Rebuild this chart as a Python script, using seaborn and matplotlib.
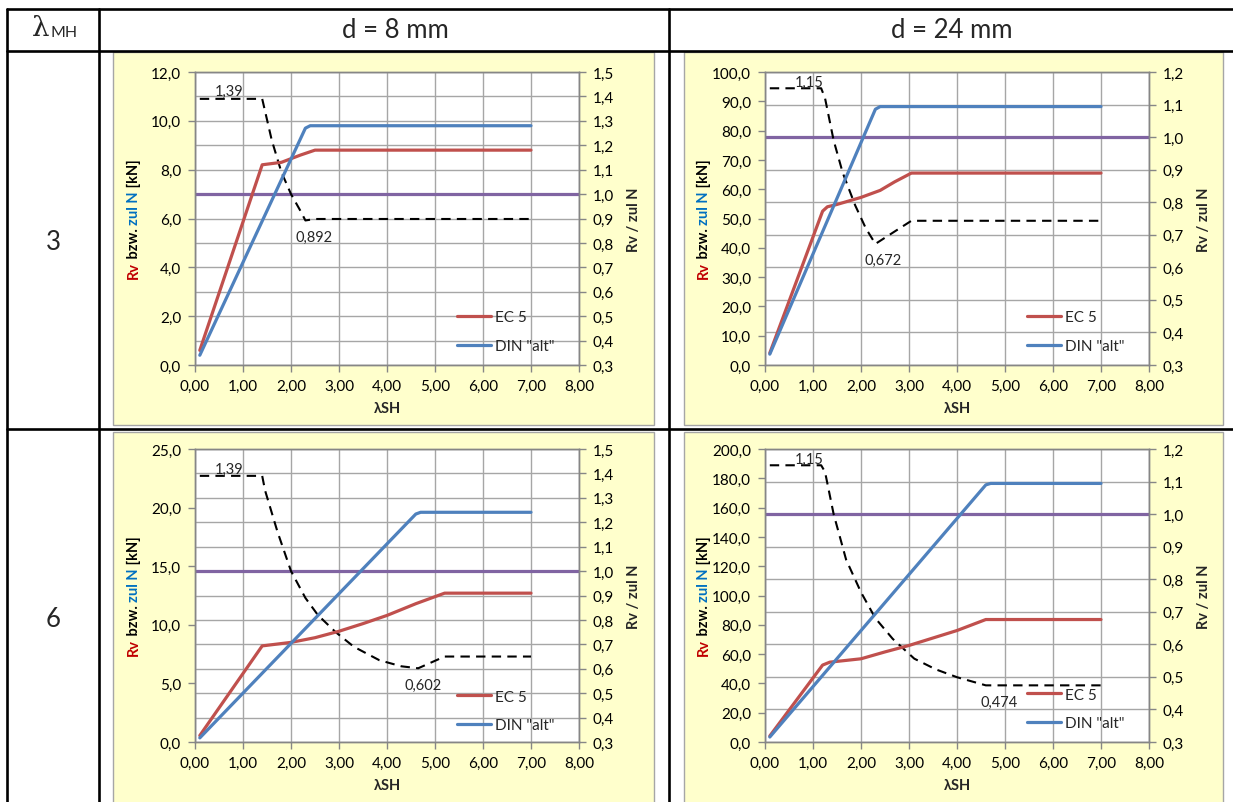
import matplotlib
matplotlib.use("Agg")
import matplotlib.pyplot as plt
from matplotlib.lines import Line2D
from matplotlib.patches import Rectangle
from matplotlib.text import Annotation
from matplotlib.ticker import FuncFormatter, MultipleLocator
import seaborn as sns

# values, x = lambda_SH
# d = 8 mm, lambda_MH = 3
a_ec5_x = [0.1, 1.4, 1.8, 2.0, 2.2, 2.5, 7.0]
a_ec5_y = [0.6, 8.2, 8.3, 8.45, 8.6, 8.8, 8.8]
a_din_x = [0.1, 2.3, 2.4, 7.0]
a_din_y = [0.4, 9.7, 9.8, 9.8]
a_rat_x = [0.1, 1.4, 1.6, 1.8, 2.0, 2.2, 2.3, 2.4, 2.5, 7.0]
a_rat_y = [1.39, 1.39, 1.22, 1.09, 1.0, 0.93, 0.892, 0.895, 0.898, 0.898]

# d = 24 mm, lambda_MH = 3
b_ec5_x = [0.1, 1.2, 1.3, 1.5, 2.0, 2.4, 2.7, 3.05, 7.0]
b_ec5_y = [4.1, 52.5, 54.0, 54.8, 57.2, 59.6, 62.5, 65.5, 65.5]
b_din_x = [0.1, 2.3, 2.4, 7.0]
b_din_y = [3.7, 87.3, 88.2, 88.2]
b_rat_x = [0.1, 1.17, 1.25, 1.43, 1.62, 1.88, 2.1, 2.3, 2.7, 3.05, 7.0]
b_rat_y = [1.15, 1.15, 1.12, 0.99, 0.89, 0.79, 0.72, 0.672, 0.71, 0.743, 0.743]

# d = 8 mm, lambda_MH = 6
c_ec5_x = [0.1, 1.4, 2.0, 2.5, 3.0, 3.5, 4.0, 4.6, 5.2, 7.0]
c_ec5_y = [0.55, 8.2, 8.5, 8.9, 9.45, 10.1, 10.8, 11.8, 12.7, 12.7]
c_din_x = [0.1, 4.6, 4.7, 7.0]
c_din_y = [0.35, 19.45, 19.6, 19.6]
c_rat_x = [0.1, 1.4, 1.46, 1.72, 2.0, 2.3, 2.56, 2.93, 3.31, 3.84, 4.3, 4.65, 5.2, 7.0]
c_rat_y = [1.39, 1.39, 1.33, 1.16, 1.0, 0.89, 0.82, 0.75, 0.69, 0.635, 0.61, 0.602, 0.65, 0.65]

# d = 24 mm, lambda_MH = 6
d_ec5_x = [0.1, 1.2, 1.35, 2.0, 2.5, 3.0, 3.5, 4.0, 4.6, 7.0]
d_ec5_y = [4.1, 52.5, 54.5, 56.8, 61.5, 65.9, 71.0, 76.1, 83.6, 83.6]
d_din_x = [0.1, 4.6, 4.7, 7.0]
d_din_y = [3.4, 175.5, 176.5, 176.5]
d_rat_x = [0.1, 1.17, 1.25, 1.43, 1.69, 2.0, 2.3, 2.66, 3.11, 3.56, 4.0, 4.6, 7.0]
d_rat_y = [1.15, 1.15, 1.13, 1.0, 0.86, 0.76, 0.68, 0.617, 0.556, 0.523, 0.499, 0.474, 0.474]

limit_ratio = 1.0
col_titles = ["d = 8 mm", "d = 24 mm"]
row_titles = ["3", "6"]
series_names = ["EC 5", 'DIN "alt"']

W, H = 1233, 803
RED = "#C0504D"
BLUE = "#4F81BD"
PURPLE = "#8064A2"
GRID = "#A6A6A6"
SPINE = "#868686"
PANEL = "#FFFFCC"

sns.set_theme(style="white")
plt.rcParams["font.family"] = ["Lato", "DejaVu Sans"]

fig = plt.figure(figsize=(W / 100, H / 100), dpi=100)
fig.patch.set_facecolor("white")


def fx(x):
    return x / W


def fy(y):
    return 1 - y / H


def comma(fmt):
    return FuncFormatter(lambda v, p: fmt.format(v).replace(".", ","))


def stacked_ylabel(xc, yc, parts, size=10.5):
    # multi coloured rotated label, pieces stacked bottom to top
    first = fig.text(fx(xc), fy(yc), parts[0][0], rotation=90, color=parts[0][1],
                     ha="center", va="bottom", fontsize=size, weight="bold")
    prev = first
    items = [first]
    for s, c in parts[1:]:
        t = Annotation(s, xy=(0.5, 1.0), xycoords=prev, rotation=90, color=c,
                       ha="center", va="bottom", fontsize=size, weight="bold")
        fig.add_artist(t)
        items.append(t)
        prev = t
    r = fig.canvas.get_renderer()
    total = sum(t.get_window_extent(r).height for t in items)
    first.set_position((fx(xc), fy(yc + total / 2)))


def draw_chart(box, ec5_x, ec5_y, din_x, din_y, rat_x, rat_y,
               ymax, ystep, rmax, hi_lab, lo_lab, leg_y):
    x0, y0, x1, y1 = box
    ax_r = fig.add_axes([fx(x0), fy(y1), fx(x1 - x0), (y1 - y0) / H])
    ax_l = ax_r.twinx()
    ax_r.set_facecolor("white")

    ax_r.axhline(limit_ratio, color=PURPLE, lw=2.3, zorder=2)
    sns.lineplot(x=rat_x, y=rat_y, ax=ax_r, color="black", lw=1.5,
                 linestyle=(0, (4.5, 3)), zorder=3)
    ax_r.text(hi_lab[0], hi_lab[1], hi_lab[2], ha="center", va="center", fontsize=10.5, zorder=4)
    ax_r.text(lo_lab[0], lo_lab[1], lo_lab[2], ha="center", va="center", fontsize=10.5, zorder=4)

    sns.lineplot(x=ec5_x, y=ec5_y, ax=ax_l, color=RED, lw=2.3)
    sns.lineplot(x=din_x, y=din_y, ax=ax_l, color=BLUE, lw=2.3)

    ax_r.set_xlim(0, 8)
    ax_r.set_ylim(0.3, rmax)
    ax_l.set_ylim(0, ymax)
    ax_r.xaxis.set_major_locator(MultipleLocator(1))
    ax_r.yaxis.set_major_locator(MultipleLocator(0.1))
    ax_l.yaxis.set_major_locator(MultipleLocator(ystep))
    ax_r.xaxis.set_major_formatter(comma("{:.2f}"))
    ax_r.yaxis.set_major_formatter(comma("{:.1f}"))
    ax_l.yaxis.set_major_formatter(comma("{:.1f}"))
    ax_r.yaxis.tick_right()
    ax_l.yaxis.tick_left()
    ax_r.grid(True, color=GRID, lw=1.0)
    ax_r.set_axisbelow(True)
    ax_l.grid(False)
    for a in (ax_r, ax_l):
        a.set_xlabel("")
        a.set_ylabel("")
        a.tick_params(direction="out", length=5, width=1, color=SPINE,
                      labelsize=11, labelcolor="black", pad=5)
        for sp in a.spines.values():
            sp.set_color(SPINE)
            sp.set_linewidth(1.0)
    ax_l.tick_params(axis="y", right=False, left=True)
    ax_r.tick_params(axis="y", left=False, right=True)
    ax_r.tick_params(axis="x", bottom=True)

    handles = [Line2D([], [], color=RED, lw=2.3), Line2D([], [], color=BLUE, lw=2.3)]
    ax_l.legend(handles, series_names, loc="center left", bbox_to_anchor=(0.683, leg_y),
                frameon=False, fontsize=11, handlelength=2.2, handletextpad=0.25,
                labelspacing=0.95, borderpad=0, borderaxespad=0)

    xm = (x0 + x1) / 2
    ym = (y0 + y1) / 2
    fig.text(fx(xm), fy(y1 + 43), "λSH", ha="center", va="center", fontsize=10.5, weight="bold")
    fig.text(fx(x1 + 55), fy(ym), "Rv / zul N", rotation=90, ha="center", va="center",
             fontsize=10.5, weight="bold")
    stacked_ylabel(x0 - 61, ym, [("Rv", "#C00000"), (" bzw. ", "black"),
                                 ("zul N", "#0070C0"), (" [kN]", "black")])


# table frame and yellow chart areas
for (px0, py0, px1, py1) in [(113, 53, 654, 426), (684, 53, 1223, 426),
                             (113, 433, 654, 812), (684, 433, 1223, 812)]:
    fig.add_artist(Rectangle((fx(px0), fy(py1)), fx(px1 - px0), (py1 - py0) / H,
                             transform=fig.transFigure, facecolor=PANEL,
                             edgecolor="#A6A6A6", lw=1.0, zorder=-2))
for yy in [10, 52, 430]:
    fig.add_artist(Line2D([fx(7), 1], [fy(yy), fy(yy)], transform=fig.transFigure,
                          color="black", lw=1.9, zorder=-1))
for xx in [7, 99, 669]:
    fig.add_artist(Line2D([fx(xx), fx(xx)], [fy(10), 0], transform=fig.transFigure,
                          color="black", lw=1.9, zorder=-1))

fig.text(fx(41), fy(29), "λ", ha="center", va="center", fontsize=20,
         family=["DejaVu Serif"])
fig.text(fx(51), fy(37), "MH", ha="left", va="baseline", fontsize=11.5)
fig.text(fx(395), fy(31), col_titles[0], ha="center", va="center", fontsize=18.5)
fig.text(fx(952), fy(31), col_titles[1], ha="center", va="center", fontsize=18.5)
fig.text(fx(53), fy(243), row_titles[0], ha="center", va="center", fontsize=18.5)
fig.text(fx(53), fy(620), row_titles[1], ha="center", va="center", fontsize=18.5)

draw_chart((195, 73, 579, 366), a_ec5_x, a_ec5_y, a_din_x, a_din_y, a_rat_x, a_rat_y,
           12, 2, 1.5, (0.71, 1.422, "1,39"), (2.48, 0.823, "0,892"), 0.114)
draw_chart((765, 73, 1149, 366), b_ec5_x, b_ec5_y, b_din_x, b_din_y, b_rat_x, b_rat_y,
           100, 10, 1.2, (0.92, 1.169, "1,15"), (2.46, 0.623, "0,672"), 0.114)
draw_chart((195, 450, 579, 743), c_ec5_x, c_ec5_y, c_din_x, c_din_y, c_rat_x, c_rat_y,
           25, 5, 1.5, (0.7, 1.42, "1,39"), (4.75, 0.532, "0,602"), 0.106)
draw_chart((765, 450, 1149, 743), d_ec5_x, d_ec5_y, d_din_x, d_din_y, d_rat_x, d_rat_y,
           200, 20, 1.2, (0.92, 1.171, "1,15"), (4.87, 0.423, "0,474"), 0.113)

fig.savefig("out.png", dpi=100)
